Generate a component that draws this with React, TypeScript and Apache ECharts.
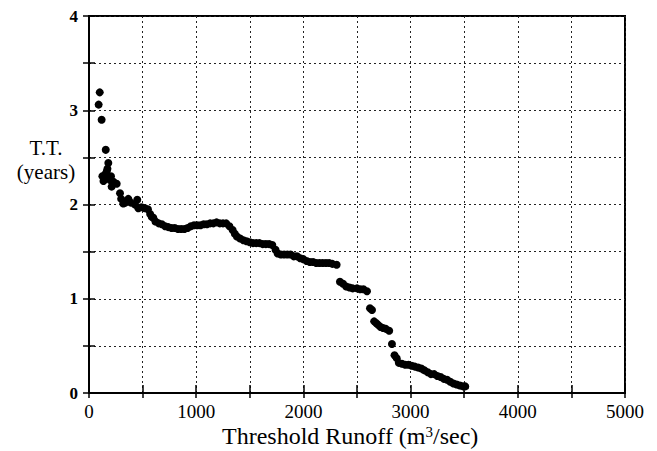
import React, { useEffect, useRef } from "react";
import * as echarts from "echarts";

const xTicks = [0, 1000, 2000, 3000, 4000, 5000];
const yTicks = [0, 1, 2, 3, 4];

// Threshold runoff (m3/sec)
const runoff = [
  90, 100, 118, 143, 150, 156, 165, 180, 196, 211, 230, 258, 289, 300, 320, 340, 367, 390, 429, 450,
  460, 490, 522, 550, 570, 585, 600, 620, 650, 680, 710, 740, 770, 800, 830, 860, 890, 920, 950, 980,
  1010, 1040, 1070, 1100, 1130, 1160, 1190, 1220, 1250, 1280, 1310, 1340, 1360, 1380, 1410, 1440, 1470, 1500, 1530, 1560,
  1590, 1620, 1650, 1680, 1710, 1740, 1760, 1790, 1820, 1850, 1880, 1910, 1940, 1970, 2000, 2030, 2060, 2090, 2120, 2150,
  2180, 2210, 2240, 2270, 2310, 2341, 2370, 2400, 2430, 2460, 2500, 2530, 2560, 2593, 2621, 2640, 2660, 2680, 2700, 2720,
  2743, 2770, 2800, 2826, 2850, 2870, 2890, 2920, 2950, 2980, 3010, 3040, 3070, 3100, 3130, 3160, 3190, 3220, 3250, 3280,
  3310, 3340, 3370, 3400, 3430, 3460, 3490, 3510, 125, 135, 172, 205,
];
// T.T. (years)
const years = [
  3.06, 3.19, 2.9, 2.28, 2.32, 2.58, 2.35, 2.44, 2.26, 2.19, 2.24, 2.22, 2.12, 2.06, 2.01, 2.02, 2.06, 2.02, 2.0, 2.05,
  1.96, 1.97, 1.96, 1.95, 1.9, 1.87, 1.86, 1.82, 1.8, 1.79, 1.77, 1.76, 1.75, 1.75, 1.74, 1.74, 1.74, 1.75, 1.77, 1.78,
  1.78, 1.78, 1.79, 1.79, 1.8, 1.8, 1.81, 1.8, 1.8, 1.8, 1.77, 1.73, 1.69, 1.66, 1.64, 1.62, 1.61, 1.6, 1.59, 1.59,
  1.59, 1.58, 1.58, 1.58, 1.57, 1.52, 1.48, 1.47, 1.47, 1.47, 1.47, 1.45, 1.45, 1.43, 1.42, 1.4, 1.39, 1.39, 1.38, 1.38,
  1.38, 1.38, 1.38, 1.37, 1.36, 1.18, 1.16, 1.13, 1.12, 1.11, 1.11, 1.1, 1.1, 1.08, 0.9, 0.88, 0.76, 0.74, 0.72, 0.7,
  0.69, 0.68, 0.66, 0.52, 0.4, 0.37, 0.32, 0.31, 0.3, 0.3, 0.29, 0.28, 0.27, 0.26, 0.24, 0.22, 0.2, 0.2, 0.18, 0.17,
  0.15, 0.14, 0.12, 0.1, 0.09, 0.08, 0.07, 0.07, 2.3, 2.25, 2.38, 2.3,
];

const xName = "Threshold Runoff";
const yName = ["T.T.", "(years)"];

export default function App() {
  const ref = useRef<HTMLDivElement>(null);
  useEffect(() => {
    if (!ref.current) return;
    const chart = echarts.init(ref.current, null, { renderer: "svg" });
    const data = runoff.map((x, i) => [x, years[i]]);
    const serif = "'Liberation Serif', 'Times New Roman', serif";
    const gridLine = { show: true, lineStyle: { color: "#222", type: [2, 3] as any, width: 1 } };
    chart.setOption({
      animation: false,
      backgroundColor: "#fff",
      grid: { left: 89, top: 16, width: 536, height: 377, show: true, borderColor: "#000", borderWidth: 2, backgroundColor: "transparent" },
      xAxis: [
        {
          type: "value", min: 0, max: 5000, interval: 500,
          axisLine: { show: true, lineStyle: { color: "#000", width: 2 } },
          axisTick: { show: true, inside: true, length: 8, interval: 1, lineStyle: { color: "#000", width: 1.5 } },
          axisLabel: {
            color: "#000", fontFamily: serif, fontSize: 19, margin: 9,
            formatter: (v: number) => (xTicks.includes(v) ? String(v) : ""),
          },
          splitLine: gridLine,
        },
        {
          type: "value", min: 0, max: 5000, interval: 500, position: "top",
          axisLine: { show: true, lineStyle: { color: "#000", width: 2 } },
          axisTick: { show: true, inside: true, length: 5, lineStyle: { color: "#000", width: 1.5 } },
          axisLabel: { show: false }, splitLine: { show: false },
        },
      ],
      yAxis: [
        {
          type: "value", min: 0, max: 4, interval: 0.5,
          axisLine: { show: true, lineStyle: { color: "#000", width: 2 } },
          axisTick: { show: true, inside: true, length: 6, lineStyle: { color: "#000", width: 1.5 } },
          axisLabel: {
            color: "#000", fontFamily: serif, fontSize: 17, fontWeight: "bold", margin: 11,
            formatter: (v: number) => (yTicks.includes(v) ? String(v) : ""),
          },
          splitLine: gridLine,
        },
        {
          type: "value", min: 0, max: 4, interval: 0.5, position: "right",
          axisLine: { show: true, lineStyle: { color: "#000", width: 2 } },
          axisTick: { show: true, inside: true, length: 6, lineStyle: { color: "#000", width: 1.5 } },
          axisLabel: { show: false }, splitLine: { show: false },
        },
      ],
      graphic: [
        {
          type: "text", left: 222, top: 424,
          style: {
            text: "{t|" + xName + " (m}{s|3}{t|/sec)}",
            rich: {
              t: { fontFamily: serif, fontSize: 24, fill: "#000", verticalAlign: "bottom" },
              s: { fontFamily: serif, fontSize: 15, fill: "#000", verticalAlign: "top", padding: [0, 0, 9, 0] },
            },
          },
        },
        {
          type: "text", x: 46, y: 148,
          style: { text: yName[0], fontFamily: serif, fontSize: 21, fill: "#000", align: "center", verticalAlign: "middle" },
        },
        {
          type: "text", x: 46, y: 172,
          style: { text: yName[1], fontFamily: serif, fontSize: 21, fill: "#000", align: "center", verticalAlign: "middle" },
        },
      ],
      series: [
        {
          type: "scatter", xAxisIndex: 0, yAxisIndex: 0, data,
          symbol: "circle", symbolSize: 8,
          itemStyle: { color: "#000", opacity: 1 },
        },
      ],
    });
    return () => chart.dispose();
  }, []);
  return <div ref={ref} style={{ position: "fixed", left: 0, top: 0, width: 657, height: 451 }} />;
}
